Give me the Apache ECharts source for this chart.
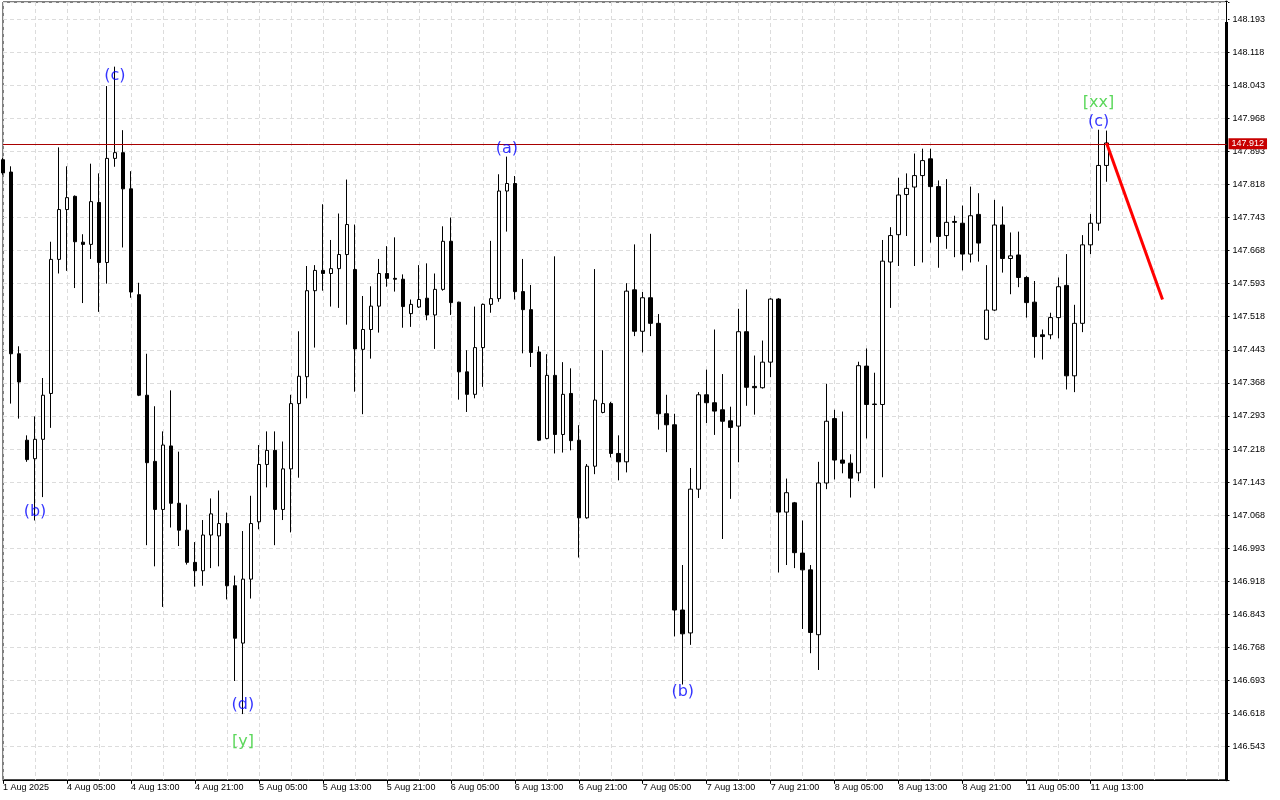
<!DOCTYPE html>
<html><head><meta charset="utf-8">
<script src="https://cdn.jsdelivr.net/npm/echarts@6/dist/echarts.min.js"></script>
<style>html,body{margin:0;padding:0;background:#fff}#c{width:1280px;height:800px}</style>
</head><body><div id="c"></div>
<script>
// ---- data (H1 candles, 1 Aug 21:00 .. 11 Aug 15:00) ----
const opens = [147.874,147.846,147.434,147.238,147.196,147.240,147.344,147.648,147.761,147.791,
147.687,147.682,147.777,147.641,147.877,147.890,147.808,147.568,147.340,147.190,
147.081,147.225,147.095,147.034,146.961,146.942,147.023,147.021,147.049,146.908,
146.778,146.923,147.053,147.183,147.215,147.081,147.173,147.321,147.382,147.577,
147.623,147.616,147.627,147.659,147.625,147.444,147.489,147.542,147.616,147.605,
147.603,147.525,147.540,147.560,147.522,147.580,147.689,147.551,147.393,147.342,
147.448,147.546,147.559,147.803,147.820,147.575,147.534,147.438,147.242,147.385,
147.251,147.344,147.238,147.062,147.179,147.301,147.321,147.208,147.189,147.579,
147.485,147.561,147.503,147.298,147.273,146.853,146.801,147.127,147.341,147.323,
147.307,147.282,147.270,147.484,147.360,147.357,147.415,147.558,147.075,147.096,
146.982,146.944,146.797,147.141,147.287,147.193,147.186,147.164,147.406,147.320,
147.319,147.642,147.704,147.795,147.812,147.838,147.876,147.813,147.702,147.734,
147.730,147.660,147.750,147.467,147.533,147.726,147.650,147.658,147.607,147.551,
147.477,147.477,147.516,147.589,147.384,147.503,147.681,147.730,147.861];
const highs = [147.878,147.859,147.451,147.249,147.292,147.379,147.688,147.902,147.859,147.793,
147.705,147.865,147.843,148.041,148.085,147.941,147.848,147.595,147.434,147.315,
147.258,147.351,147.212,147.092,147.007,147.057,147.106,147.124,147.074,146.931,
147.032,147.112,147.227,147.258,147.258,147.235,147.341,147.485,147.633,147.635,
147.773,147.692,147.752,147.829,147.727,147.565,147.587,147.649,147.678,147.698,
147.614,147.557,147.635,147.639,147.616,147.723,147.743,147.552,147.442,147.541,
147.548,147.690,147.841,147.881,147.837,147.649,147.590,147.451,147.433,147.655,
147.415,147.401,147.272,147.184,147.626,147.442,147.325,147.249,147.594,147.682,
147.574,147.706,147.524,147.341,147.298,146.955,147.175,147.347,147.398,147.489,
147.388,147.314,147.536,147.580,147.430,147.464,147.560,147.560,147.151,147.098,
147.056,146.955,147.189,147.366,147.307,147.303,147.206,147.416,147.446,147.391,
147.692,147.721,147.833,147.843,147.888,147.899,147.899,147.827,147.830,147.747,
147.770,147.813,147.798,147.635,147.783,147.768,147.709,147.711,147.610,147.599,
147.489,147.527,147.607,147.660,147.545,147.703,147.751,147.942,147.940];
const lows = [147.840,147.321,147.287,147.189,147.056,147.109,147.266,147.616,147.622,147.583,
147.549,147.649,147.529,147.593,147.858,147.675,147.561,147.338,147.000,146.952,
146.860,147.040,146.998,146.956,146.906,146.908,146.948,146.952,146.877,146.692,
146.617,146.879,147.036,147.131,147.000,147.057,147.029,147.153,147.333,147.448,
147.577,147.541,147.538,147.500,147.348,147.297,147.423,147.482,147.586,147.575,
147.493,147.495,147.538,147.510,147.445,147.577,147.522,147.330,147.302,147.333,
147.359,147.527,147.552,147.711,147.557,147.435,147.404,147.236,147.240,147.208,
147.210,147.215,146.972,147.060,147.161,147.299,147.199,147.147,147.165,147.474,
147.437,147.474,147.262,147.211,146.793,146.684,146.774,147.107,147.277,147.250,
147.014,147.105,147.188,147.316,147.296,147.355,147.381,146.938,146.955,146.948,
146.810,146.755,146.717,147.127,147.149,147.163,147.108,147.145,147.242,147.129,
147.154,147.538,147.633,147.701,147.633,147.641,147.686,147.629,147.672,147.653,
147.623,147.641,147.643,147.465,147.531,147.618,147.569,147.585,147.516,147.425,
147.421,147.467,147.469,147.353,147.347,147.483,147.660,147.713,147.824];
const closes = [147.844,147.434,147.370,147.194,147.240,147.340,147.648,147.761,147.788,147.688,
147.682,147.779,147.641,147.877,147.890,147.808,147.574,147.340,147.187,147.081,
147.227,147.095,147.034,146.961,146.942,147.023,147.071,147.049,146.908,146.789,
146.923,147.049,147.183,147.215,147.081,147.173,147.321,147.383,147.577,147.623,
147.616,147.627,147.659,147.727,147.445,147.489,147.542,147.616,147.605,147.603,
147.541,147.546,147.557,147.522,147.580,147.689,147.550,147.393,147.342,147.448,
147.546,147.559,147.803,147.820,147.575,147.534,147.437,147.238,147.385,147.251,
147.342,147.237,147.062,147.179,147.329,147.321,147.208,147.189,147.576,147.485,
147.561,147.503,147.298,147.273,146.853,146.799,147.127,147.341,147.323,147.304,
147.281,147.267,147.484,147.358,147.357,147.415,147.558,147.075,147.119,146.983,
146.944,146.802,147.141,147.281,147.193,147.186,147.152,147.407,147.319,147.319,
147.644,147.702,147.794,147.809,147.838,147.872,147.813,147.700,147.732,147.732,
147.660,147.747,147.685,147.533,147.726,147.650,147.656,147.607,147.550,147.473,
147.473,147.516,147.586,147.384,147.503,147.681,147.730,147.861,147.912];

const xTickLabels = ['1 Aug 2025','4 Aug 05:00','4 Aug 13:00','4 Aug 21:00','5 Aug 05:00','5 Aug 13:00',
  '5 Aug 21:00','6 Aug 05:00','6 Aug 13:00','6 Aug 21:00','7 Aug 05:00','7 Aug 13:00','7 Aug 21:00',
  '8 Aug 05:00','8 Aug 13:00','8 Aug 21:00','11 Aug 05:00','11 Aug 13:00'];

const currentPrice = 147.912;

// projection line (bar index, price)
const projIdx = [138, 145];
const projPrice = [147.912, 147.557];

// wave labels (bar index, price, text, kind)
const waveText  = ['(b)','(c)','(d)','[y]','(a)','(b)','[xx]','(c)'];
const waveIdx   = [4, 14, 30, 30, 63, 85, 137, 137];
const wavePrice = [147.075, 148.064, 146.637, 146.554, 147.898, 146.667, 148.003, 147.959];
const waveKind  = ['minor','minor','minor','major','minor','minor','major','minor'];

// ---- chart ----
const nSlots = 154;
const categories = Array.from({length: nSlots}, (_, i) => String(i));
const candleData = opens.map((o, i) => [o, closes[i], lows[i], highs[i]]);
const kindColor = {minor: '#0000ff', major: '#32cd32'};
const gridDash = {color: '#dcdcdc', type: [4, 3], width: 1};
const axisFont = 'Liberation Sans';

const chart = echarts.init(document.getElementById('c'), null, {renderer: 'canvas'});
chart.setOption({
  animation: false,
  backgroundColor: '#ffffff',
  grid: {left: 2.5, right: 53.5, top: 2, bottom: 20.2, show: true, borderColor: '#000', borderWidth: 1},
  graphic: [{
    type: 'rect', silent: true, z: 100,
    shape: {x: 1225, y: 2, width: 3, height: 20},
    style: {fill: '#ffffff'}
  }, {
    type: 'line', silent: true, z: 101,
    shape: {x1: 1226.5, y1: 2, x2: 1226.5, y2: 22},
    style: {stroke: '#000', lineWidth: 1}
  }],
  xAxis: {
    type: 'category', data: categories, boundaryGap: false,
    axisLine: {show: true, lineStyle: {color: '#000', width: 1}},
    axisTick: {show: true, length: 4, interval: (i) => i % 8 === 0 && i <= 136, lineStyle: {color: '#000'}},
    axisLabel: {
      show: true, interval: (i) => i % 8 === 0 && i <= 136,
      formatter: (v) => { const n = Number(v); return (n % 8 === 0 && xTickLabels[n / 8]) ? xTickLabels[n / 8] : ''; },
      align: 'left', color: '#000', fontSize: 9, fontFamily: axisFont, margin: 3
    },
    splitLine: {show: true, interval: (i) => i % 4 === 0, lineStyle: gridDash}
  },
  yAxis: {
    type: 'value', position: 'right', min: 146.468, max: 148.2316, interval: 0.075,
    axisLine: {show: true, lineStyle: {color: '#000', width: 3}},
    axisTick: {show: true, length: 3, lineStyle: {color: '#000'}},
    axisLabel: {
      formatter: (v) => (v > 146.5 && v < 148.2) ? v.toFixed(3) : '',
      color: '#000', fontSize: 9, fontFamily: axisFont, margin: 6
    },
    splitLine: {show: true, lineStyle: gridDash}
  },
  series: [
    {
      type: 'candlestick', data: candleData, barWidth: 4,
      itemStyle: {color: '#ffffff', color0: '#000000', borderColor: '#000000', borderColor0: '#000000', borderWidth: 1},
      markLine: {
        silent: true, symbol: ['none', 'none'],
        data: [{yAxis: currentPrice}],
        lineStyle: {color: '#a80000', width: 1, type: 'solid'},
        label: {show: true, position: 'end', distance: 2, formatter: currentPrice.toFixed(3),
          color: '#fff', backgroundColor: '#c80000', padding: [1, 3, 1, 3], fontSize: 9, fontFamily: axisFont}
      }
    },
    {
      type: 'line', data: projIdx.map((x, i) => [categories[x], projPrice[i]]),
      symbol: 'none', lineStyle: {color: '#ff0000', width: 3}, z: 5
    },
    {
      type: 'scatter', symbolSize: 1, z: 6,
      itemStyle: {color: 'rgba(0,0,0,0)'},
      data: waveText.map((t, i) => ({
        value: [categories[waveIdx[i]], wavePrice[i]],
        label: {color: kindColor[waveKind[i]]}
      })),
      label: {show: true, position: 'inside', formatter: (p) => waveText[p.dataIndex],
        fontSize: 16, fontFamily: 'DejaVu Sans'}
    }
  ]
});
</script></body></html>
